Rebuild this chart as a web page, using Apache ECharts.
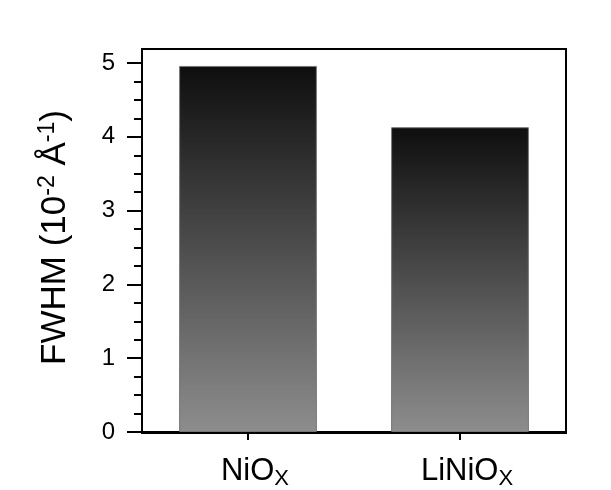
<!DOCTYPE html>
<html><head><meta charset="utf-8">
<script src="https://cdn.jsdelivr.net/npm/echarts@6/dist/echarts.min.js"></script>
<style>html,body{margin:0;padding:0;background:#fff}#c{width:611px;height:490px}</style>
</head><body><div id="c"></div>
<script>
const categories = ['NiO{sub|X}', 'LiNiO{sub|X}'];
const fwhm = [4.96, 4.13];
const yTicks = [0, 1, 2, 3, 4, 5];

const FONT = '"Liberation Sans", Arial, sans-serif';
const chart = echarts.init(document.getElementById('c'), null, {renderer: 'canvas'});
chart.setOption({
  backgroundColor: '#ffffff',
  animation: false,
  grid: [
    {left: 142, right: 45, top: 63, bottom: 57, containLabel: false},
    {left: 142, right: 45, top: 49, bottom: 57, show: true, borderColor: '#000', borderWidth: 2, backgroundColor: 'transparent'}
  ],
  xAxis: [{
    type: 'category', gridIndex: 0, data: categories,
    axisLine: {show: true, lineStyle: {color: '#000', width: 2}},
    axisTick: {show: true, alignWithLabel: true, inside: false, length: 8, lineStyle: {color: '#000', width: 2}},
    axisLabel: {
      interval: 0,
      color: '#000', fontFamily: FONT, fontSize: 31, margin: 20,
      padding: [0, 0, 0, 14],
      rich: {sub: {fontSize: 22, fontFamily: FONT, color: '#000', padding: [16, 0, 0, 0]}}
    },
    splitLine: {show: false}
  }],
  yAxis: [{
    type: 'value', gridIndex: 0, min: yTicks[0], max: yTicks[yTicks.length - 1], interval: 1,
    name: 'FWHM (10{sup|-2} Å{sup|-1})',
    nameLocation: 'middle', nameRotate: 90, nameGap: 67,
    nameTextStyle: {
      color: '#000', fontFamily: FONT, fontSize: 35,
      padding: [0, 0, 0, 20],
      rich: {sup: {fontSize: 23, fontFamily: FONT, color: '#000', padding: [0, 0, 16, 0]}}
    },
    axisLine: {show: true, lineStyle: {color: '#000', width: 2}},
    axisTick: {show: true, inside: false, length: 15, lineStyle: {color: '#000', width: 2}},
    minorTick: {show: true, splitNumber: 4, length: 8, lineStyle: {color: '#000', width: 2}},
    axisLabel: {color: '#000', fontFamily: FONT, fontSize: 24, margin: 27},
    splitLine: {show: false},
    minorSplitLine: {show: false}
  }],
  series: [{
    type: 'bar', xAxisIndex: 0, yAxisIndex: 0, data: fwhm, barWidth: '65%',
    itemStyle: {
      color: new echarts.graphic.LinearGradient(0, 0, 0, 1, [
        {offset: 0, color: '#0e0e0e'},
        {offset: 1, color: '#8d8d8d'}
      ]),
      borderColor: '#777', borderWidth: 1
    }
  }]
});
</script></body></html>
